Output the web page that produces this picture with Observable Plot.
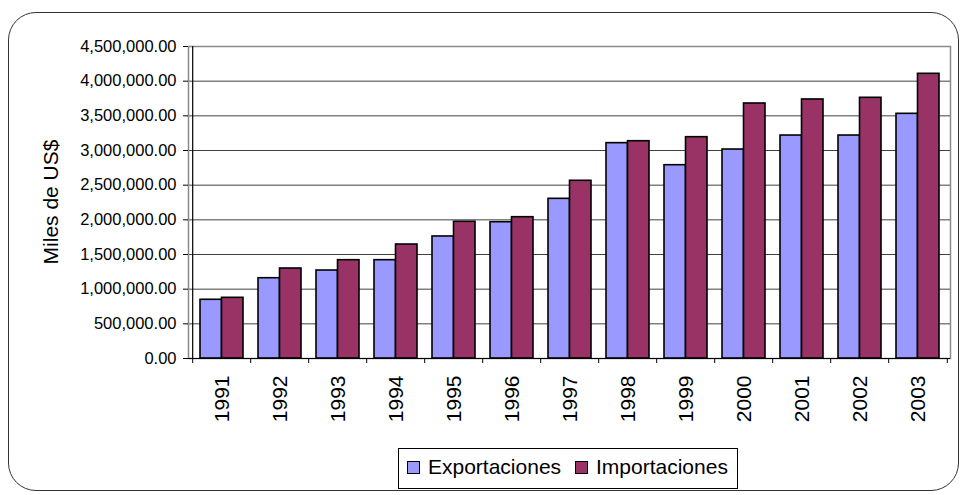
<!DOCTYPE html>
<html>
<head>
<meta charset="utf-8">
<script src="https://cdn.jsdelivr.net/npm/d3@7"></script>
<script src="https://cdn.jsdelivr.net/npm/@observablehq/plot@0.6"></script>
<style>
  html, body { margin: 0; padding: 0; background: #fff; }
  #wrap { position: relative; width: 960px; height: 495px; overflow: hidden;
          font-family: "Liberation Sans", Arial, sans-serif; color: #000; }
  #frame { position: absolute; left: 8px; top: 12px; width: 949px; height: 477px;
           border: 1.5px solid #333; border-radius: 28px; pointer-events: none; }
  #legend { position: absolute; left: 398px; top: 448px; width: 338px; height: 39px;
            border: 1px solid #000; background: #fff; }
  .sw { position: absolute; top: 12px; width: 11px; height: 11px; border: 1.5px solid #000; }
  .lt { position: absolute; top: 6px; font-size: 21px; line-height: 24px; white-space: nowrap; }
  #chart { position: absolute; left: 0; top: 0; }
</style>
</head>
<body>
<div id="wrap">
  <div id="chart"></div>
  <div id="frame"></div>
  <div id="legend"></div>
</div>
<script>
const years = ["1991","1992","1993","1994","1995","1996","1997","1998","1999","2000","2001","2002","2003"];
const exportaciones = [847000, 1158000, 1269000, 1418000, 1760000, 1966000, 2303000, 3106000, 2788000, 3014000, 3216000, 3216000, 3529000];
const importaciones = [875000, 1298000, 1418000, 1644000, 1972000, 2038000, 2563000, 3134000, 3192000, 3678000, 3736000, 3760000, 4106000];
const yTicks = [0, 500000, 1000000, 1500000, 2000000, 2500000, 3000000, 3500000, 4000000, 4500000];
const seriesNames = ["Exportaciones", "Importaciones"];
const seriesColors = ["#9999FF", "#993366"];
const yTitle = "Miles de US$";

const W = 960, H = 495;
const mL = 188, mR = 10, mT = 46, mB = 137;
const step = (W - mL - mR) / years.length;
const pIn = 0.266, pOut = 0.133;
const bw = step * (1 - pIn);

const expData = years.map((y, i) => ({year: y, value: exportaciones[i]}));
const impData = years.map((y, i) => ({year: y, value: importaciones[i]}));

const chart = Plot.plot({
  width: W, height: H,
  marginLeft: mL, marginRight: mR, marginTop: mT, marginBottom: mB,
  style: {fontFamily: '"Liberation Sans", Arial, sans-serif', color: "#000", background: "transparent"},
  x: {domain: years, paddingInner: pIn, paddingOuter: pOut, label: null},
  y: {domain: [0, 4500000], label: null},
  marks: [
    Plot.gridY(yTicks.slice(1, -1), {stroke: "#404040", strokeOpacity: 1, strokeWidth: 1}),
    Plot.frame({stroke: "#8a8a8a", strokeWidth: 1.5}),
    Plot.barY(expData, {x: "year", y: "value", fill: seriesColors[0], stroke: "#000", strokeWidth: 1.6, insetRight: bw / 2}),
    Plot.barY(impData, {x: "year", y: "value", fill: seriesColors[1], stroke: "#000", strokeWidth: 1.6, insetLeft: bw / 2}),
    Plot.ruleY([0], {stroke: "#000", strokeWidth: 1.2}),
    Plot.ruleX([years[0]], {dx: -step / 2, stroke: "#000", strokeWidth: 1.2}),
    Plot.axisY(yTicks, {tickSize: 5, tickPadding: 7, fontSize: 16.5, tickFormat: d3.format(",.2f"), label: null, stroke: "#000"}),
    Plot.axisX({tickSize: 5, dx: -step / 2, tickFormat: () => "", label: null, stroke: "#000"}),
    Plot.axisX([years[years.length - 1]], {tickSize: 5, dx: step / 2, tickFormat: () => "", label: null, stroke: "#000"}),
    Plot.axisX({tickSize: 0, tickRotate: -90, tickPadding: 17, fontSize: 21, label: null})
  ]
});
document.getElementById("chart").appendChild(chart);

// Y axis title
d3.select(chart).append("text")
  .attr("transform", `translate(50,${(mT + (H - mB)) / 2}) rotate(-90)`)
  .attr("text-anchor", "middle")
  .attr("dominant-baseline", "central")
  .attr("font-size", 21)
  .attr("fill", "#000")
  .text(yTitle);

// Legend
const legend = document.getElementById("legend");
const swLeft = [8, 176];
const txLeft = [29, 197];
seriesNames.forEach((name, i) => {
  const sw = document.createElement("div");
  sw.className = "sw";
  sw.style.left = swLeft[i] + "px";
  sw.style.background = seriesColors[i];
  legend.appendChild(sw);
  const t = document.createElement("div");
  t.className = "lt";
  t.style.left = txLeft[i] + "px";
  t.textContent = name;
  legend.appendChild(t);
});
</script>
</body>
</html>
